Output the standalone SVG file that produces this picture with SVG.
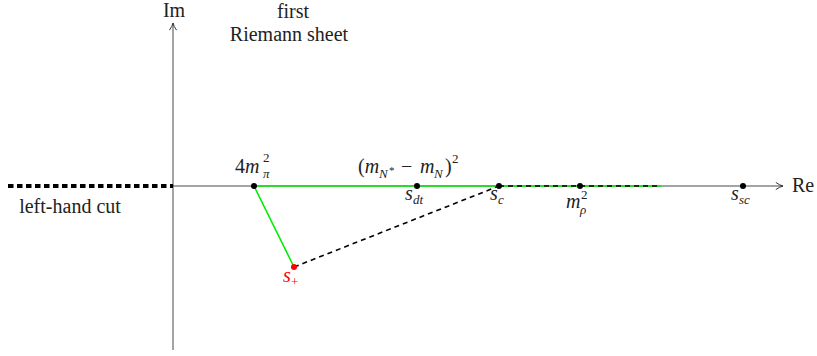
<svg xmlns="http://www.w3.org/2000/svg" width="817" height="356" viewBox="0 0 817 356">
<defs>
<marker id="arr" viewBox="0 0 10 10" refX="9" refY="5" markerWidth="9" markerHeight="9" markerUnits="userSpaceOnUse" orient="auto">
<path d="M1,1 Q5,4 9,5 Q5,6 1,9" fill="none" stroke="#333" stroke-width="1.1"/>
</marker>
</defs>
<g id="connectors">
<line x1="173" y1="350" x2="173" y2="23" stroke="#333" stroke-width="0.9" marker-end="url(#arr)"/>
<line x1="173" y1="186" x2="783" y2="186" stroke="#333" stroke-width="0.9" marker-end="url(#arr)"/>
<line x1="8" y1="186" x2="173" y2="186" stroke="#000" stroke-width="4" stroke-dasharray="5.5 3.5"/>
<line x1="254" y1="186" x2="661" y2="186" stroke="#00ee00" stroke-width="1.6"/>
<line x1="499" y1="186" x2="661" y2="186" stroke="#000" stroke-width="1.6" stroke-dasharray="5 4"/>
<line x1="254" y1="186" x2="294" y2="267" stroke="#00ee00" stroke-width="1.6"/>
<line x1="294" y1="267" x2="499" y2="186" stroke="#000" stroke-width="1.6" stroke-dasharray="5 4"/>
</g>
<g id="axis-labels">
<text x="174" y="17" text-anchor="middle" font-family="Liberation Serif" font-size="20" fill="#222">Im</text>
<text x="792" y="192" font-family="Liberation Serif" font-size="20" fill="#222">Re</text>
</g>
<g id="sheet-label">
<text x="293" y="18" text-anchor="middle" font-family="Liberation Serif" font-size="20" fill="#222">first</text>
<text x="289" y="41" text-anchor="middle" font-family="Liberation Serif" font-size="20" fill="#222">Riemann sheet</text>
</g>
<g id="left-cut">
<text x="70" y="213" text-anchor="middle" font-family="Liberation Serif" font-size="20" fill="#222">left-hand cut</text>
</g>
<g id="p-4mpi">
<circle cx="254" cy="186" r="3" fill="#000"/>
<text x="235" y="173" font-family="Liberation Serif" font-size="20" fill="#222">4<tspan font-style="italic">m</tspan></text>
<text x="263" y="178" font-family="Liberation Serif" font-size="13" font-style="italic" fill="#222">π</text>
<text x="263" y="162" font-family="Liberation Serif" font-size="13" fill="#222">2</text>
</g>
<g id="p-sdt">
<circle cx="417" cy="186" r="3" fill="#000"/>
<text x="358" y="173" font-family="Liberation Serif" font-size="20" fill="#222">(<tspan font-style="italic">m</tspan></text>
<text x="379" y="178" font-family="Liberation Serif" font-size="13" font-style="italic" fill="#222">N</text>
<text x="389" y="174" font-family="Liberation Serif" font-size="11" fill="#222">*</text>
<text x="401" y="173" font-family="Liberation Serif" font-size="20" fill="#222">−</text>
<text x="420" y="173" font-family="Liberation Serif" font-size="20" font-style="italic" fill="#222">m</text>
<text x="434" y="178" font-family="Liberation Serif" font-size="13" font-style="italic" fill="#222">N</text>
<text x="445" y="173" font-family="Liberation Serif" font-size="20" fill="#222">)</text>
<text x="452" y="163" font-family="Liberation Serif" font-size="13" fill="#222">2</text>
<text x="405" y="200" font-family="Liberation Serif" font-size="20" font-style="italic" fill="#222">s</text>
<text x="413" y="204" font-family="Liberation Serif" font-size="13" font-style="italic" fill="#222">dt</text>
</g>
<g id="p-sc">
<circle cx="499" cy="186" r="3" fill="#000"/>
<text x="490" y="200" font-family="Liberation Serif" font-size="20" font-style="italic" fill="#222">s</text>
<text x="498" y="204" font-family="Liberation Serif" font-size="13" font-style="italic" fill="#222">c</text>
</g>
<g id="p-mrho">
<circle cx="580" cy="186" r="3" fill="#000"/>
<text x="566" y="208" font-family="Liberation Serif" font-size="20" font-style="italic" fill="#222">m</text>
<text x="580" y="214" font-family="Liberation Serif" font-size="13" font-style="italic" fill="#222">ρ</text>
<text x="581" y="199" font-family="Liberation Serif" font-size="13" fill="#222">2</text>
</g>
<g id="p-ssc">
<circle cx="743" cy="186" r="3" fill="#000"/>
<text x="731" y="200" font-family="Liberation Serif" font-size="20" font-style="italic" fill="#222">s</text>
<text x="739" y="204" font-family="Liberation Serif" font-size="13" font-style="italic" fill="#222">sc</text>
</g>
<g id="p-splus">
<circle cx="294" cy="267" r="3" fill="#ff0000"/>
<text x="283" y="282" font-family="Liberation Serif" font-size="20" font-style="italic" fill="#ff0000">s</text>
<text x="291" y="286" font-family="Liberation Serif" font-size="13" fill="#ff0000">+</text>
</g>
</svg>
